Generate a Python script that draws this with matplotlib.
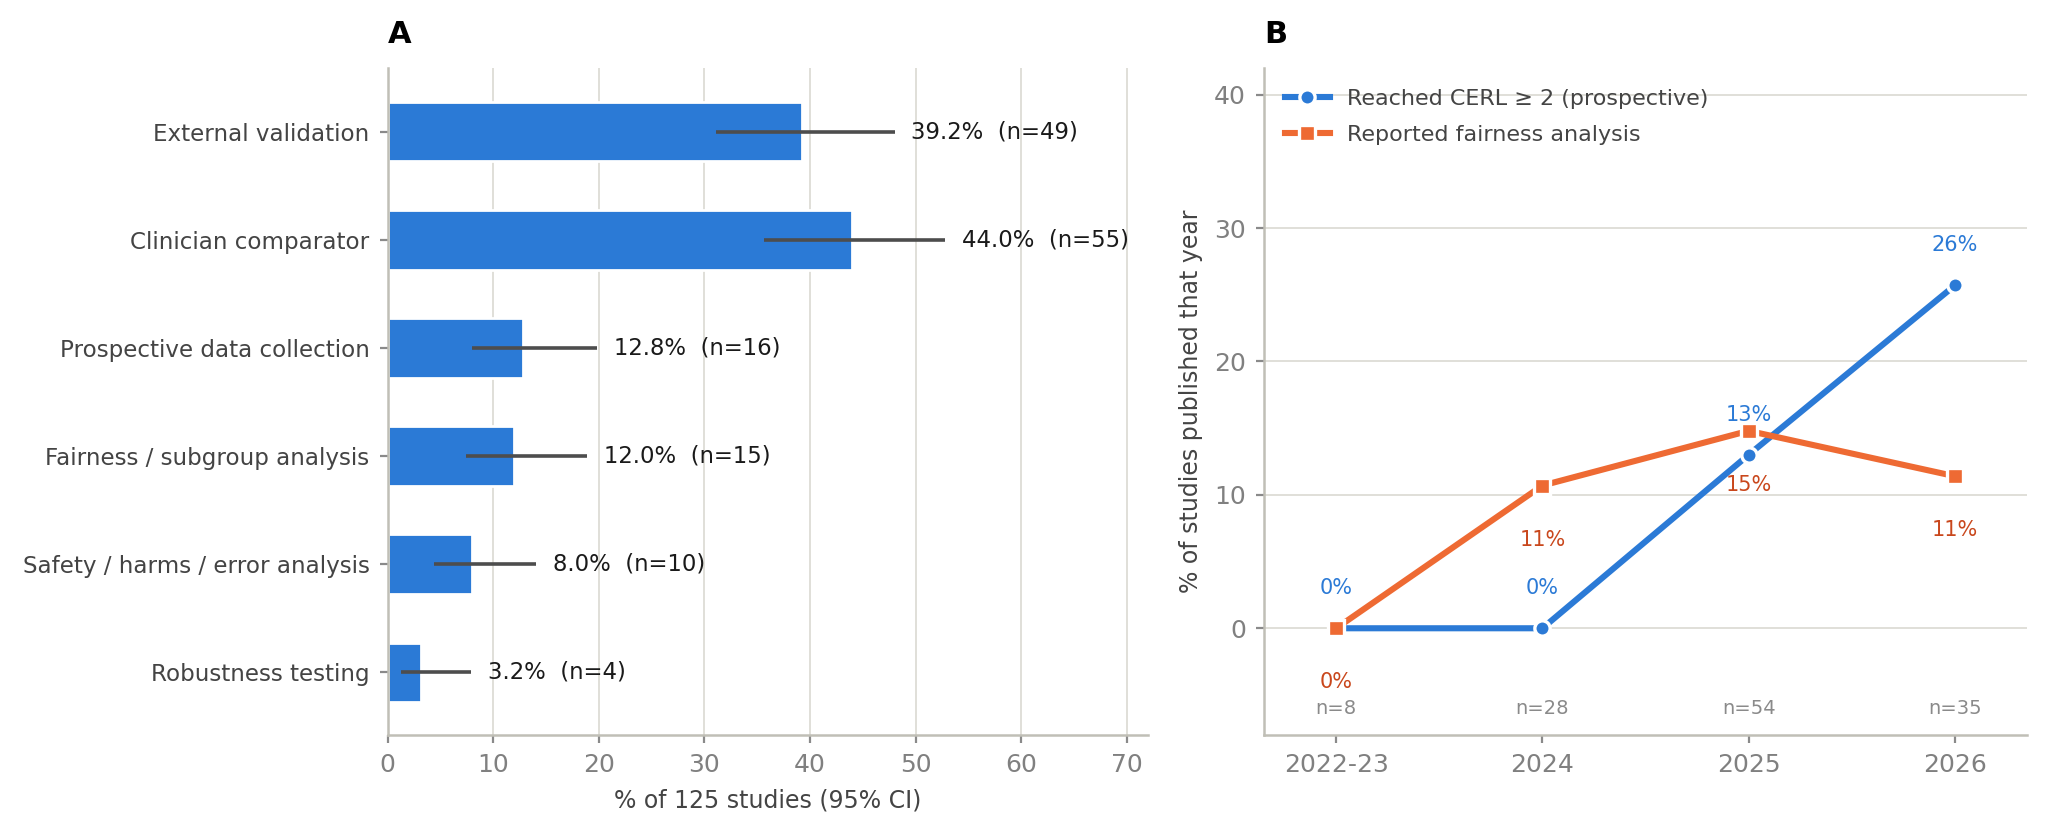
import matplotlib.pyplot as plt
import numpy as np

# Panel A: reporting items across 125 studies
items = ["External validation", "Clinician comparator", "Prospective data collection",
         "Fairness / subgroup analysis", "Safety / harms / error analysis", "Robustness testing"]
item_pct = [39.2, 44.0, 12.8, 12.0, 8.0, 3.2]
item_n = [49, 55, 16, 15, 10, 4]
ci_lo = [31.1, 35.6, 8.0, 7.4, 4.4, 1.3]
ci_hi = [48.0, 52.8, 19.8, 18.9, 14.1, 7.9]
n_total = 125

# Panel B: by publication year
years = ["2022-23", "2024", "2025", "2026"]
year_n = [8, 28, 54, 35]
cerl_pct = [0.0, 0.0, 13.0, 25.7]
fair_pct = [0.0, 10.7, 14.8, 11.4]

BLUE = "#2b7ad6"
ORANGE = "#ee6a33"
ORANGE_TXT = "#c9471c"
SPINE = "#c0bfb6"
GRID = "#e0dfd8"

plt.rcParams['font.family'] = ['DejaVu Sans']

fig = plt.figure(figsize=(10.23, 4.16), dpi=200)
ax1 = fig.add_axes([0.1894, 0.1166, 0.3717, 0.8017])
ax2 = fig.add_axes([0.6178, 0.1166, 0.3729, 0.8017])

for ax in (ax1, ax2):
    for s in ("top", "right"):
        ax.spines[s].set_visible(False)
    for s in ("left", "bottom"):
        ax.spines[s].set_color(SPINE)
        ax.spines[s].set_linewidth(0.9)
    ax.tick_params(color="#8a8a8a", length=3, width=0.8)
    ax.set_axisbelow(True)

# ---- panel A
y = np.arange(len(items))
ax1.barh(y, item_pct, height=0.55, color=BLUE, edgecolor="white", linewidth=1, zorder=2)
ax1.hlines(y, ci_lo, ci_hi, color="#4d4d4d", linewidth=1.3, zorder=3)
for yi, p, n, hi in zip(y, item_pct, item_n, ci_hi):
    ax1.text(hi + 1.6, yi, f"{p:.1f}%  (n={n})", va="center", ha="left",
             fontsize=8.2, color="#1a1a1a")
ax1.set_yticks(y, items)
ax1.set_ylim(5.58, -0.59)
ax1.set_xlim(0, 72)
ax1.set_xticks(np.arange(0, 71, 10))
ax1.grid(axis="x", color=GRID, linewidth=0.7)
ax1.tick_params(axis="y", labelsize=8.3, labelcolor="#444444")
ax1.tick_params(axis="x", labelsize=9, labelcolor="#808080")
ax1.set_xlabel(f"% of {n_total} studies (95% CI)", fontsize=8.5, color="#444444")
ax1.text(0, 1.05, "A", transform=ax1.transAxes, fontsize=11, fontweight="bold", va="center")

# ---- panel B
x = np.arange(len(years))
ax2.plot(x, cerl_pct, color=BLUE, linewidth=2.2, marker="o", markersize=5.5,
         markeredgecolor="white", markeredgewidth=1.2, label="Reached CERL \u2265 2 (prospective)", zorder=3)
ax2.plot(x, fair_pct, color=ORANGE, linewidth=2.2, marker="s", markersize=5.5,
         markeredgecolor="white", markeredgewidth=1.2, label="Reported fairness analysis", zorder=3)
for xi, v in zip(x, cerl_pct):
    ax2.annotate(f"{v:.0f}%", (xi, v), xytext=(0, 14.5), textcoords="offset points",
                 ha="center", va="center", fontsize=7.5, color=BLUE)
for xi, v in zip(x, fair_pct):
    ax2.annotate(f"{v:.0f}%", (xi, v), xytext=(0, -19.5), textcoords="offset points",
                 ha="center", va="center", fontsize=7.5, color=ORANGE_TXT)
for xi, n in zip(x, year_n):
    ax2.text(xi, -6, f"n={n}", ha="center", va="center", fontsize=7, color="#8a8a8a")
ax2.set_xticks(x, years)
ax2.set_xlim(-0.35, 3.35)
ax2.set_ylim(-8, 42)
ax2.set_yticks([0, 10, 20, 30, 40])
ax2.grid(axis="y", color=GRID, linewidth=0.7)
ax2.tick_params(axis="both", labelsize=9, labelcolor="#808080")
ax2.set_ylabel("% of studies published that year", fontsize=8.5, color="#444444")
ax2.legend(loc="upper left", frameon=False, fontsize=8, handlelength=2.0,
           borderaxespad=0.55, labelspacing=0.7, labelcolor="#444444")
ax2.text(0, 1.05, "B", transform=ax2.transAxes, fontsize=11, fontweight="bold", va="center")

fig.savefig("out.png", dpi=200, facecolor="white")
